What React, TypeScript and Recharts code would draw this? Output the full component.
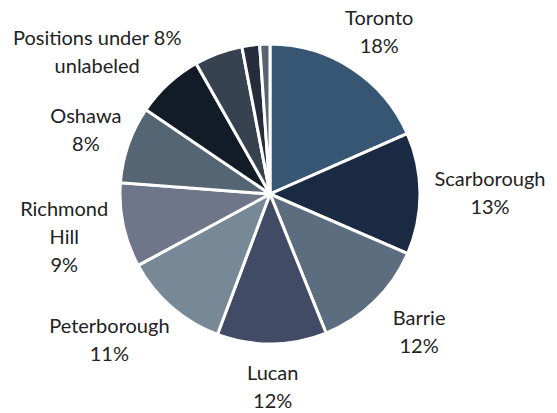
import { PieChart, Pie, Cell } from "recharts";

const cities = [
  "Toronto",
  "Scarborough",
  "Barrie",
  "Lucan",
  "Peterborough",
  "Richmond Hill",
  "Oshawa",
  "Positions under 8% unlabeled",
  "",
  "",
  "",
];
const shares = [18.4, 13.1, 12.4, 11.8, 11.4, 9.1, 8.3, 7.3, 5.2, 1.9, 1.1];
const shownLabels = ["18%", "13%", "12%", "12%", "11%", "9%", "8%", "", "", "", ""];
const colors = [
  "#375673", "#1b2a43", "#5b6d7f", "#414b65", "#778896", "#6f7689",
  "#566573", "#121b28", "#36424f", "#252c3b", "#5a6470",
];

const data = cities.map((name, i) => ({ name, value: shares[i], pct: shownLabels[i] }));

const lineSplits: Record<string, string[]> = {
  "Richmond Hill": ["Richmond", "Hill"],
  "Positions under 8% unlabeled": ["Positions under 8%", "unlabeled"],
};

const FONT = "Lato, 'Open Sans', sans-serif";
const LINE = 28;

function renderLabel(props: any) {
  const { cx, cy, outerRadius, midAngle, index } = props;
  const entry = data[index];
  if (!entry.name) return null;
  const lines = [...(lineSplits[entry.name] ?? [entry.name])];
  if (entry.pct) lines.push(entry.pct);
  const longest = Math.max(...lines.map((l) => l.length));
  const w = longest * 10;
  const h = lines.length * LINE;
  const rad = (midAngle * Math.PI) / 180;
  const cos = Math.cos(rad);
  const sin = Math.sin(rad);
  const ax = cx + (outerRadius + 15) * cos;
  const ay = cy - (outerRadius + 15) * sin;
  // labels below the middle sit a little further out sideways
  const push = sin < 0 ? cos * Math.abs(sin) * 26 : 0;
  const bx = ax + (cos * w) / 2 + push;
  const by = ay - (sin * h) / 2;
  const top = by - h / 2;
  return (
    <text
      key={`lbl-${index}`}
      x={bx}
      y={top}
      textAnchor="middle"
      fill="#222"
      fontSize={20}
      fontFamily={FONT}
    >
      {lines.map((l, i) => (
        <tspan key={i} x={bx} y={top + LINE * i + 21}>
          {l}
        </tspan>
      ))}
    </text>
  );
}

export default function App() {
  return (
    <div style={{ position: "absolute", left: 0, top: 0, width: 557, height: 413, background: "#fff" }}>
      <PieChart width={557} height={413} margin={{ top: 0, right: 0, bottom: 0, left: 0 }}>
        <Pie
          data={data}
          dataKey="value"
          nameKey="name"
          cx={270}
          cy={194}
          outerRadius={150}
          startAngle={90}
          endAngle={-270}
          stroke="#ffffff"
          strokeWidth={3}
          label={renderLabel}
          labelLine={false}
          isAnimationActive={false}
        >
          {data.map((d, i) => (
            <Cell key={d.name + i} fill={colors[i]} />
          ))}
        </Pie>
      </PieChart>
    </div>
  );
}
